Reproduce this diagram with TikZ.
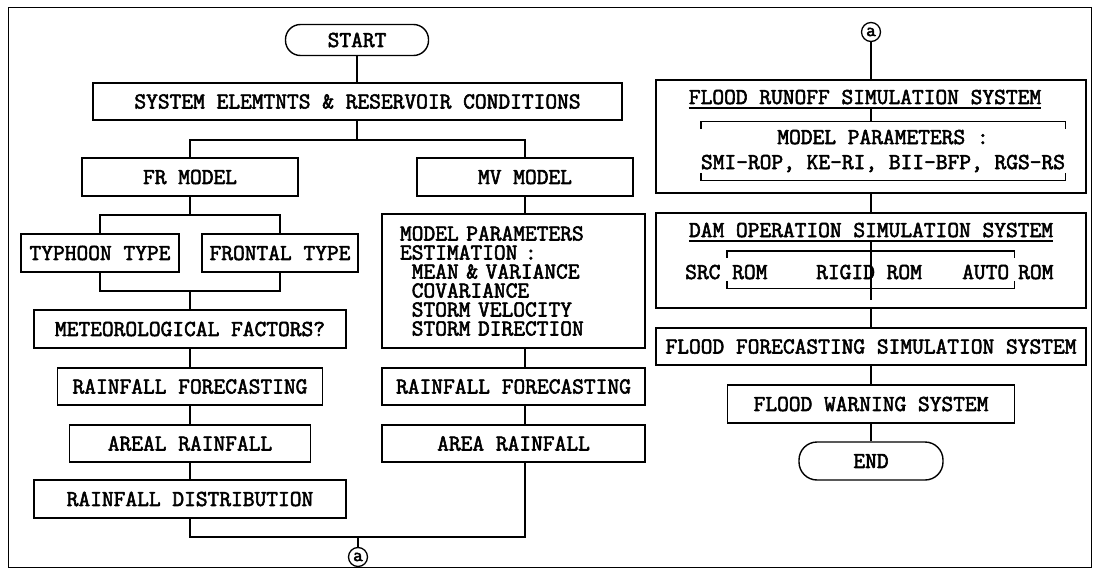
\documentclass[tikz,border=0pt]{standalone}
\usepackage{fontspec}
\usepackage{tikz}
\usetikzlibrary{positioning}
\newfontfamily\flowfamily{Latin Modern Mono}[FakeBold=2.5]
\newcommand\flowfont{\flowfamily\fontsize{22.8}{19}\selectfont}

\begin{document}
\begin{tikzpicture}[x=1pt,y=-1pt,
 b/.style={draw,line width=1.4pt,inner sep=0pt,minimum height=37pt,font=\flowfont},
 t/.style={b,rounded corners=15pt},
 l/.style={inner sep=0pt,font=\flowfont},
 c/.style={draw,circle,line width=1.3pt,inner sep=0pt,minimum size=19pt,
 font=\flowfamily\fontsize{19}{19}\selectfont},
 k/.style={line width=1.4pt}]
 \useasboundingbox (0,0) rectangle (1097,575);
 \draw[line width=1pt] (8,8) rectangle (1091,567);
 \node[t,minimum width=143pt,minimum height=31pt] (st) at (357,40) {START};
 \node[b,minimum width=529pt] (se) at (357.5,101.5) {SYSTEM ELEMTNTS \& RESERVOIR CONDITIONS};
 \node[b,minimum width=216pt,minimum height=38pt] (fr) at (190,177) {FR MODEL};
 \node[b,minimum width=216pt,minimum height=38pt] (mv) at (525,177) {MV MODEL};
 \node[b,minimum width=158pt,minimum height=38pt] (ty) at (100,253) {TYPHOON TYPE};
 \node[b,minimum width=156pt,minimum height=38pt] (fo) at (280,253) {FRONTAL TYPE};
 \node[b,minimum width=312pt,minimum height=38pt] (me) at (190,329) {METEOROLOGICAL FACTORS?};
 \node[b,minimum width=265pt] (rf) at (190,386.5) {RAINFALL FORECASTING};
 \node[b,minimum width=241pt] (ar) at (190,443.5) {AREAL RAINFALL};
 \node[b,minimum width=312pt,minimum height=38pt] (rd) at (190,499) {RAINFALL DISTRIBUTION};
 \node[b,minimum width=263pt,minimum height=134pt,text width=227pt,align=left] (mp) at (513.5,281)
 {MODEL PARAMETERS\\ESTIMATION :\\\phantom{X}MEAN \& VARIANCE\\\phantom{X}COVARIANCE\\
 \phantom{X}STORM VELOCITY\\\phantom{X}STORM DIRECTION};
 \node[b,minimum width=263pt] (rg) at (513.5,386.5) {RAINFALL FORECASTING};
 \node[b,minimum width=263pt] (aa) at (513.5,443.5) {AREA RAINFALL};
 \node[c] (p1) at (358,557) {a};
 \node[c] (p2) at (871,32) {a};
 \node[b,minimum width=430pt,minimum height=113pt] (fs) at (871,136.5) {};
 \node[l,anchor=base] (ft) at (865,104) {FLOOD RUNOFF SIMULATION SYSTEM};
 \node[l,minimum width=358pt,minimum height=58pt,align=center] (fp) at (883,151)
 {MODEL PARAMETERS :\\[6pt]SMI-ROP, KE-RI, BII-BFP, RGS-RS};
 \node[b,minimum width=430pt,minimum height=95pt] (dm) at (871,260.5) {};
 \node[l,anchor=base] (dt) at (871,237) {DAM OPERATION SIMULATION SYSTEM};
 \node[l,minimum width=287pt,minimum height=37pt] (db) at (870.5,269.5) {};
 \node[l,anchor=base west] (s1) at (685,279) {SRC};
 \node[l,anchor=base west] (s2) at (732,279) {ROM};
 \node[l,anchor=base west] (s3) at (816,279) {RIGID ROM};
 \node[l,anchor=base west] (s4) at (962,279) {AUTO};
 \node[l,anchor=base west] (s5) at (1018,279) {ROM};
 \node[b,minimum width=430pt] (ff) at (871,346.5) {FLOOD FORECASTING SIMULATION SYSTEM};
 \node[b,minimum width=287pt,minimum height=38pt] (fw) at (871,404) {FLOOD WARNING SYSTEM};
 \node[t,minimum width=144pt,minimum height=38pt,rounded corners=18pt] (en) at (871,461) {END};
 \coordinate (j1) at (357,140);
 \coordinate (j2) at (190,215);
 \coordinate (j3) at (190,291);
 \coordinate (j4) at (358,537);
 \coordinate (dx) at (871,300);
 \draw[k] (st) -- (st |- se.north); \draw[k] (se.south -| j1) -- (j1);
 \draw[k] (fr) |- (j1) -| (mv);
 \draw[k] (fr) -- (j2); \draw[k] (ty) |- (j2) -| (fo);
 \draw[k] (ty) |- (j3) -| (fo); \draw[k] (j3) -- (me);
 \draw[k] (me) -- (rf); \draw[k] (rf) -- (ar); \draw[k] (ar) -- (rd);
 \draw[k] (mv) -- (mv |- mp.north); \draw[k] (mp.south -| mv) -- (mv |- rg.north);
 \draw[k] (rg.south -| mv) -- (mv |- aa.north);
 \draw[k] (rd) |- (j4) -| (aa.south -| mv); \draw[k] (j4) -- (p1);
 \draw[k] ([yshift=-4pt]ft.base west) coordinate (fu) -- ([yshift=-4pt]ft.base east);
 \draw[k] ([yshift=-7pt]fp.north west) -- (fp.north west) -- (fp.north east) -- ([yshift=-7pt]fp.north east);
 \draw[k] ([yshift=7pt]fp.south west) -- (fp.south west) -- (fp.south east) -- ([yshift=7pt]fp.south east);
 \draw[k] (p2) -- (p2 |- fs.north); \draw[k] (fu -| p2) -- (p2 |- fp.north);
 \draw[k] (fs) -- (dm);
 \draw[k] ([yshift=-4pt]dt.base west) coordinate (du) -- ([yshift=-4pt]dt.base east);
 \draw[k] ([yshift=-7pt]db.north west) -- (db.north west) -- (db.north east) -- ([yshift=-7pt]db.north east);
 \draw[k] ([yshift=7pt]db.south west) -- (db.south west) -- (db.south east) -- ([yshift=7pt]db.south east);
 \draw[k] (du -| p2) -- (dx);
 \draw[k] (dm) -- (ff); \draw[k] (ff) -- (fw); \draw[k] (fw) -- (en);
\end{tikzpicture}
\end{document}
